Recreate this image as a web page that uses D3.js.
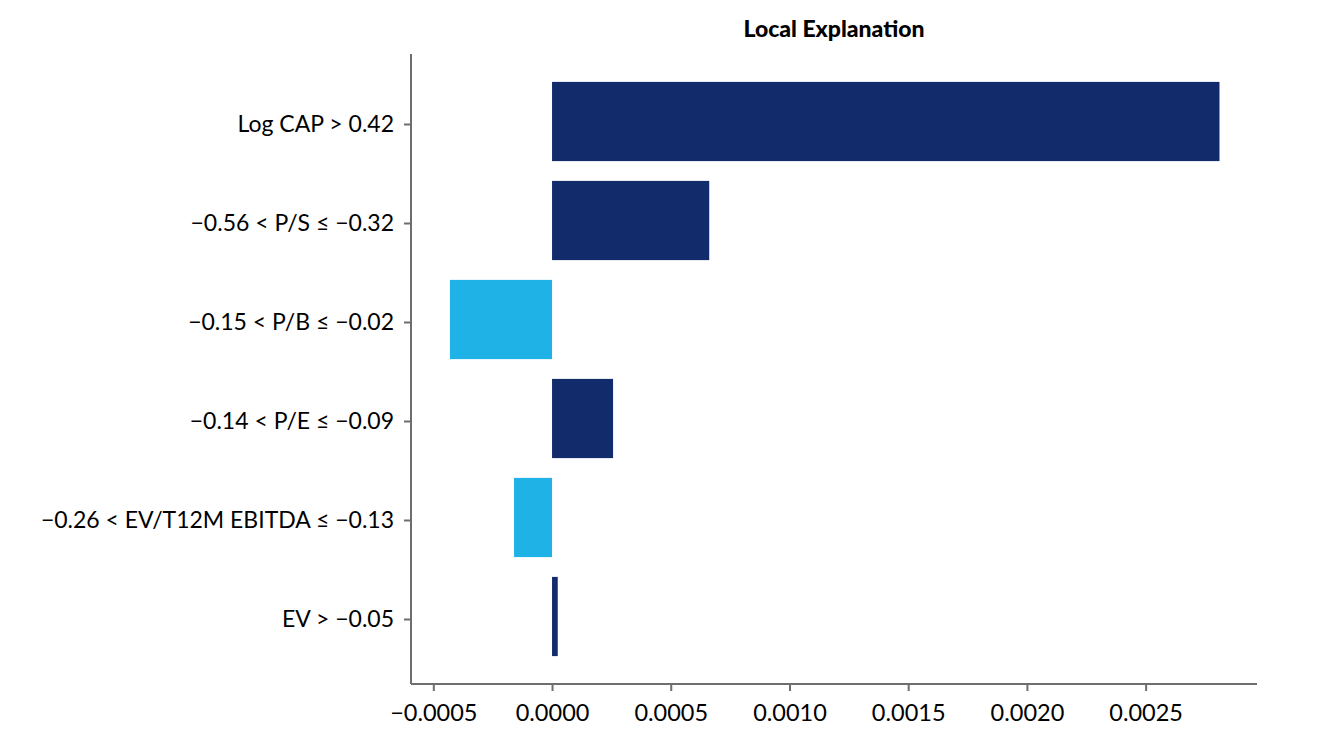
<!DOCTYPE html>
<html>
<head>
<meta charset="utf-8">
<script src="https://cdn.jsdelivr.net/npm/d3@7"></script>
<style>
  body { margin: 0; background: #fff; }
  svg text { font-family: Lato, "Noto Sans", sans-serif; }
</style>
</head>
<body>
<script>
const WIDTH = 1330;
const HEIGHT = 756;

// features, top to bottom
var features = [
    'Log CAP > 0.42',
    '\u22120.56 < P/S \u2264 \u22120.32',
    '\u22120.15 < P/B \u2264 \u22120.02',
    '\u22120.14 < P/E \u2264 \u22120.09',
    '\u22120.26 < EV/T12M EBITDA \u2264 \u22120.13',
    'EV > \u22120.05'
];
var weights = [0.002811, 0.000662, -0.000430, 0.000257, -0.000160, 0.000024];
var xTicks = [-0.0005, 0, 0.0005, 0.0010, 0.0015, 0.0020, 0.0025];

var margin = {left: 411, right: 73, top: 54, bottom: 72};

var svg = d3.select('body')
    .append('svg')
    .attr('width', WIDTH)
    .attr('height', HEIGHT);

var x = d3.scaleLinear()
    .domain([-0.000594, 0.002969])
    .range([margin.left, WIDTH - margin.right]);

var y = d3.scaleBand()
    .domain(features)
    .range([72, 666])
    .paddingInner(0.2)
    .paddingOuter(0.1);

svg.selectAll('rect.bar')
    .data(features)
    .enter()
    .append('rect')
    .attr('class', 'bar')
    .attr('x', function(d, i) { return Math.min(x(0), x(weights[i])); })
    .attr('y', function(d) { return y(d); })
    .attr('width', function(d, i) { return Math.abs(x(weights[i]) - x(0)); })
    .attr('height', y.bandwidth())
    .attr('fill', function(d, i) { return weights[i] >= 0 ? '#112b6b' : '#1fb2e6'; });

var xAxis = svg.append('g')
    .attr('transform', 'translate(0,' + (HEIGHT - margin.bottom) + ')')
    .call(d3.axisBottom(x)
        .tickValues(xTicks)
        .tickSize(7)
        .tickPadding(13)
        .tickFormat(function(d) { return d3.format('.4f')(d).replace('-', '\u2212'); }));

// labels sit a little below the bar centres in the original
var yAxis = svg.append('g')
    .attr('transform', 'translate(' + margin.left + ',3)')
    .call(d3.axisLeft(y).tickSize(7).tickPadding(10));

yAxis.select('.domain').remove();
yAxis.append('line')
    .attr('x1', 0).attr('x2', 0)
    .attr('y1', margin.top - 3).attr('y2', HEIGHT - margin.bottom - 3)
    .attr('stroke', '#6e6e6e')
    .attr('stroke-width', 2);

xAxis.select('.domain').remove();
xAxis.append('line')
    .attr('x1', margin.left).attr('x2', WIDTH - margin.right)
    .attr('y1', 0).attr('y2', 0)
    .attr('stroke', '#6e6e6e')
    .attr('stroke-width', 2);

xAxis.selectAll('.tick text').attr('font-size', '23.5px');
yAxis.selectAll('.tick text').attr('font-size', '23px');

[xAxis, yAxis].forEach(function(g) {
    g.selectAll('.tick line').attr('stroke', '#6e6e6e').attr('stroke-width', 2);
    g.selectAll('.tick text')
        .attr('fill', '#000')
        .style('font-family', 'Lato, "Noto Sans", sans-serif');
});

svg.append('text')
    .attr('x', (margin.left + WIDTH - margin.right) / 2)
    .attr('y', 37)
    .attr('text-anchor', 'middle')
    .attr('font-size', '23px')
    .attr('font-weight', 900)
    .text('Local Explanation');
</script>
</body>
</html>
